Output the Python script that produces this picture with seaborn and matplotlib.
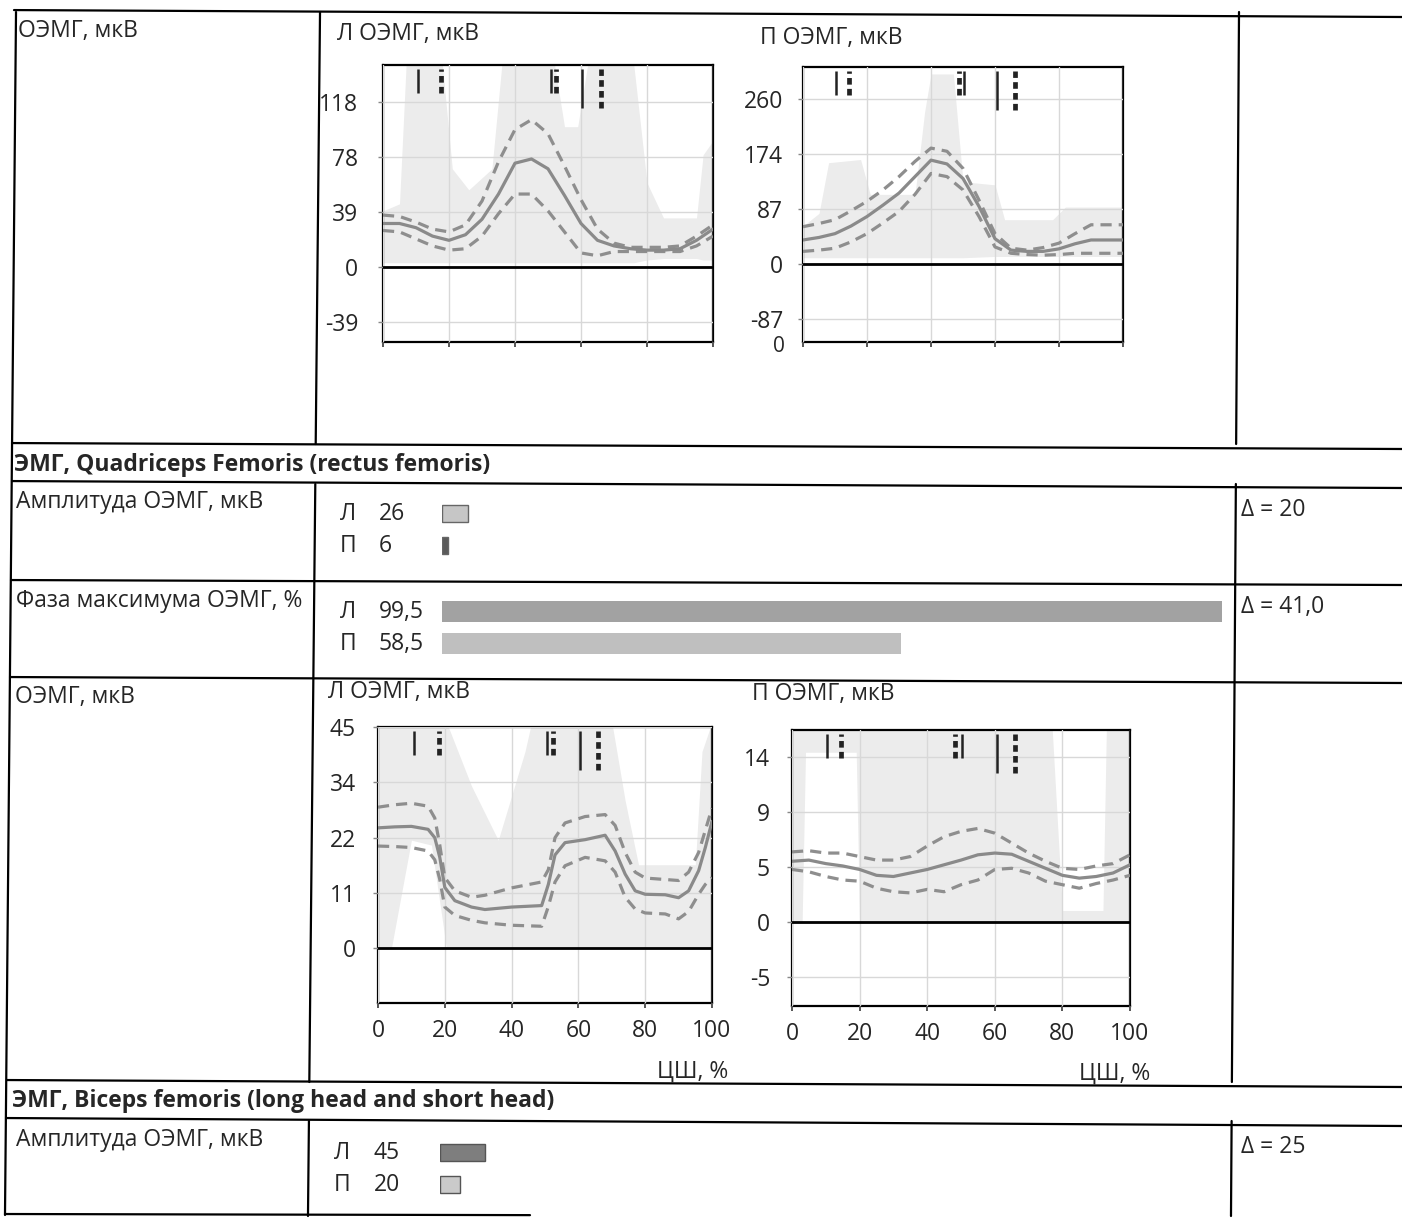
import numpy as np
import pandas as pd
import matplotlib
matplotlib.use("Agg")
import matplotlib.pyplot as plt
import seaborn as sns
from matplotlib.lines import Line2D

# ---------- данные ----------
# ОЭМГ, Quadriceps Femoris, левая нога (Л)
qf_l_x = [0, 5, 10, 15, 20, 25, 30, 35, 40, 45, 50, 55, 60, 65, 70, 75, 80, 85, 90, 95, 100]
qf_l_mean = [31, 31, 28, 22, 19, 23, 34, 52, 74, 77, 70, 51, 31, 19, 15, 13, 12, 12, 13, 19, 27]
qf_l_up = [37, 36, 32, 27, 25, 30, 47, 75, 98, 105, 95, 72, 48, 27, 17, 14, 14, 14, 15, 22, 30]
qf_l_lo = [26, 25, 20, 15, 12, 13, 22, 38, 52, 52, 40, 25, 10, 8, 11, 11, 11, 11, 11, 15, 22]
qf_l_bx = [0, 5, 7, 18, 21, 26, 33, 36, 52, 55, 59, 62, 76, 80, 85, 95, 97, 100]
qf_l_bup = [40, 45, 144, 144, 70, 55, 70, 144, 144, 100, 100, 144, 144, 60, 35, 35, 80, 90]
qf_l_blo = [3, 3, 3, 3, 3, 3, 3, 3, 3, 3, 3, 3, 3, 5, 6, 6, 5, 5]
qf_l_solid = [10.5, 50.8, 60.4]
qf_l_dot = [17.5, 52.3, 66.0]

# ОЭМГ, Quadriceps Femoris, правая нога (П)
qf_r_x = [0, 5, 10, 15, 20, 25, 30, 35, 40, 45, 50, 55, 60, 65, 70, 75, 80, 85, 90, 95, 100]
qf_r_mean = [38, 42, 48, 60, 75, 93, 112, 138, 164, 158, 135, 91, 40, 22, 20, 20, 24, 32, 38, 38, 38]
qf_r_up = [59, 64, 70, 84, 99, 117, 138, 162, 183, 178, 151, 101, 48, 25, 22, 26, 33, 48, 62, 62, 62]
qf_r_lo = [20, 22, 25, 35, 48, 65, 83, 110, 143, 138, 117, 75, 27, 17, 15, 14, 15, 17, 17, 17, 17]
qf_r_bx = [0, 5, 8, 18, 21, 35, 38, 40, 47, 50, 60, 63, 78, 82, 100]
qf_r_bup = [60, 80, 160, 165, 110, 110, 240, 300, 300, 130, 125, 70, 70, 90, 90]
qf_r_blo = [10, 10, 10, 10, 10, 10, 10, 10, 10, 10, 12, 12, 12, 12, 12]
qf_r_solid = [10.2, 50.3, 60.6]
qf_r_dot = [14.4, 48.6, 66.1]

# ОЭМГ, Biceps femoris, Л
bf_l_x = [0, 5, 10, 15, 17, 18.5, 20, 23, 28, 32, 40, 49, 51, 53, 56, 62, 68, 71, 74, 77, 80, 86, 90, 93, 96, 98, 100]
bf_l_mean = [24.5, 24.7, 24.8, 24.2, 22.5, 18.5, 12.4, 9.7, 8.4, 7.9, 8.4, 8.7, 13, 19, 21.5, 22.1, 23, 19.8, 15.1, 11.7, 11, 10.9, 10.3, 11.7, 15.8, 20.5, 25.8]
bf_l_up = [28.7, 29.2, 29.5, 28.9, 26.5, 21, 14.4, 11.7, 10.4, 10.8, 12.3, 13.5, 16, 22.5, 25.5, 26.8, 27.2, 25, 19.5, 15.5, 14.3, 14, 13.8, 15.5, 19.5, 24, 28.5]
bf_l_lo = [20.8, 20.7, 20.5, 19.8, 18, 14, 8.4, 6.7, 5.7, 5.2, 4.7, 4.5, 8.5, 13.5, 16.8, 18.5, 17.8, 15.5, 10.4, 8, 7.2, 7.0, 6.0, 7.5, 11, 13, 14.4]
bf_l_bx = [0, 4, 10, 16, 20.5, 28, 36, 44, 46, 70, 74, 78, 95, 97, 100]
bf_l_bup = [46, 46, 46, 46, 46, 33, 22, 40, 46, 46, 30, 17, 17, 40, 46]
bf_l_blo = [0, 0, 22, 21, 0, 0, 0, 0, 0, 0, 0, 0, 0, 0, 0]
bf_l_solid = [10.8, 50.7, 60.5]
bf_l_dot = [18.2, 52.5, 66.0]

# ОЭМГ, Biceps femoris, П
bf_r_x = [0, 5, 10, 15, 20, 25, 30, 35, 40, 45, 50, 55, 60, 65, 70, 75, 80, 85, 90, 95, 100]
bf_r_mean = [5.2, 5.3, 5.0, 4.8, 4.5, 4.0, 3.9, 4.2, 4.5, 4.9, 5.3, 5.75, 5.9, 5.8, 5.2, 4.6, 4.0, 3.76, 3.9, 4.2, 4.9]
bf_r_up = [6.0, 6.1, 5.9, 5.9, 5.6, 5.3, 5.3, 5.6, 6.5, 7.3, 7.75, 8.0, 7.6, 6.75, 5.9, 5.2, 4.6, 4.5, 4.8, 5.0, 5.75]
bf_r_lo = [4.5, 4.3, 3.9, 3.6, 3.5, 2.9, 2.6, 2.5, 2.8, 2.6, 3.2, 3.6, 4.5, 4.6, 4.2, 3.5, 3.2, 2.9, 3.3, 3.6, 4.0]
bf_r_bx = [0, 3, 4, 19, 20, 77, 80, 92, 93, 100]
bf_r_bup = [16.4, 16.4, 16.4, 16.4, 16.4, 16.4, 1, 1, 16.4, 16.4]
bf_r_blo = [0, 0, 14.5, 14.5, 0, 0, 0, 0, 0, 0]
bf_r_solid = [10.5, 50.2, 60.6]
bf_r_dot = [14.5, 48.3, 66.0]

sides = ["Л", "П"]
qf_amp = [26, 6]
qf_phase = [99.5, 58.5]
bf_amp = [45, 20]
qf_amp_delta = "Δ = 20"
qf_phase_delta = "Δ = 41,0"
bf_amp_delta = "Δ = 25"

# ---------- оформление ----------
W, H = 1402, 1218
sns.set_style("white")
plt.rcParams['font.family'] = ['Open Sans', 'DejaVu Sans']
FS = 16.5
BAND = '#ececec'

fig = plt.figure(figsize=(W / 100, H / 100), dpi=100)


def fx(x):
    return x / W


def fy(y):
    return 1 - y / H


def rect(x0, y0, x1, y1):
    return [fx(x0), fy(y1), (x1 - x0) / W, (y1 - y0) / H]


def hline(yl, yr, x0=0, x1=W):
    # линия таблицы, скан слегка наклонён
    k = (yr - yl) / W
    fig.add_artist(Line2D([fx(x0), fx(x1)], [fy(yl + k * x0), fy(yl + k * x1)],
                          color='black', lw=1.6))


def vline(xt, xb, y0, y1):
    k = (xb - xt) / (1214 - 14)
    xa = xt + k * (y0 - 14)
    xc = xt + k * (y1 - 14)
    fig.add_artist(Line2D([fx(xa), fx(xc)], [fy(y0), fy(y1)], color='black', lw=1.6))


def txt(x, y, s, **kw):
    kw.setdefault('fontsize', FS)
    kw.setdefault('va', 'center')
    fig.text(fx(x), fy(y), s, **kw)


# таблица
hline(10, 17, 14)
hline(443, 449, 12)
hline(481, 488, 12)
hline(580, 585, 11)
hline(677, 683, 10)
hline(1080, 1087, 7)
hline(1118, 1126, 6)
hline(1214, 1217, 5, 530)
vline(16, 5, 12, 1215)
for xt, xb in [(320, 308), (1239, 1231)]:
    vline(xt, xb, 12, 444)
    vline(xt, xb, 484, 1082)
    vline(xt, xb, 1121, 1216)


def draw_chart(pos, x, mean, up, lo, bx, bup, blo, ev_s, ev_d, ylim, step, ylabels, pad, show_x):
    ax = fig.add_axes(rect(*pos))
    ax.fill_between(bx, blo, bup, color=BAND, lw=0, zorder=1)
    sns.lineplot(x=x, y=up, ax=ax, color='#8e8e8e', lw=2.3, linestyle=(0, (3.5, 2.2)), zorder=3)
    sns.lineplot(x=x, y=lo, ax=ax, color='#8e8e8e', lw=2.3, linestyle=(0, (3.5, 2.2)), zorder=3)
    sns.lineplot(x=x, y=mean, ax=ax, color='#8a8a8a', lw=2.3, zorder=3)
    ax.axhline(0, color='black', lw=2, zorder=4)
    ax.vlines(ev_s, [0.90, 0.90, 0.845], 0.985, transform=ax.get_xaxis_transform(),
              color='#222222', lw=1.8, zorder=5)
    ax.vlines(ev_d, [0.90, 0.90, 0.845], 0.985, transform=ax.get_xaxis_transform(),
              color='#222222', lw=3.4, linestyles=[(0, (1.4, 0.9))], zorder=5)
    ax.set_xlim(0, 100)
    ax.set_ylim(*ylim)
    yt = [step * k for k in range(-len(ylabels), len(ylabels) + 1)
          if ylim[0] <= step * k <= ylim[1] + 1e-6]
    ax.set_yticks(yt)
    lab = {round(step * k, 6): l for k, l in ylabels.items()}
    ax.set_yticklabels([lab.get(round(v, 6), '') for v in yt])
    ax.set_xticks([0, 20, 40, 60, 80, 100])
    if show_x:
        ax.set_xticklabels(['0', '20', '40', '60', '80', '100'])
    else:
        ax.set_xticklabels([])
    ax.tick_params(axis='y', length=3.6, width=1, color='#888888', pad=pad, labelsize=FS,
                   left=True)
    ax.tick_params(axis='x', length=3.6, width=1.4, color='#555555', pad=8, labelsize=FS,
                   bottom=True, direction='out')
    ax.grid(True, color='#d8d8d8', lw=1)
    ax.set_axisbelow(False)
    for sp in ax.spines.values():
        sp.set_color('black')
        sp.set_linewidth(1.6)
        sp.set_visible(True)
    ax.set_xlabel('')
    ax.set_ylabel('')
    return ax


# строка 1: ОЭМГ Quadriceps
txt(18, 31, "ОЭМГ, мкВ")
txt(337, 34, "Л ОЭМГ, мкВ")
txt(760, 38, "П ОЭМГ, мкВ")
draw_chart((383, 65, 713, 342), qf_l_x, qf_l_mean, qf_l_up, qf_l_lo, qf_l_bx, qf_l_bup, qf_l_blo,
           qf_l_solid, qf_l_dot, (-53.5, 144), 39.2,
           {-1: '-39', 0: '0', 1: '39', 2: '78', 3: '118'}, 14.4, False)
draw_chart((803, 67, 1123, 342), qf_r_x, qf_r_mean, qf_r_up, qf_r_lo, qf_r_bx, qf_r_bup, qf_r_blo,
           qf_r_solid, qf_r_dot, (-123, 311), 86.8,
           {-1: '-87', 0: '0', 1: '87', 2: '174', 3: '260'}, 10.8, False)
txt(785, 346, "0", ha='right', fontsize=15)

# заголовок раздела
txt(14, 465, "ЭМГ, Quadriceps Femoris (rectus femoris)", fontweight='bold')


def bar_row(y_c, x0, px_per_unit, vals, colors, bar_h, edge, label_x, num_x, ytop_txt, title, delta, delta_y):
    gap = 32
    ax = fig.add_axes(rect(x0, y_c - gap * 1.5, x0 + 800, y_c + gap * 1.5))
    df = pd.DataFrame({'side': sides, 'val': vals})
    sns.barplot(data=df, x='val', y='side', hue='side', palette=colors, orient='h', ax=ax,
                width=bar_h / gap, legend=False, edgecolor=edge, linewidth=1.0 if edge else 0)
    ax.set_xlim(0, 800 / px_per_unit)
    ax.set_ylim(2, -1)
    ax.axis('off')
    for i, (s, v) in enumerate(zip(sides, vals)):
        yy = y_c - gap / 2 + i * gap + 1
        txt(label_x, yy, s)
        txt(num_x, yy, f"{v:g}".replace('.', ','))
    txt(16, ytop_txt, title)
    txt(1241, delta_y, delta)


bar_row(529, 442, 1.0, qf_amp, ['#c6c6c6', '#5a5a5a'], 17, '#666666', 340, 379, 502,
        "Амплитуда ОЭМГ, мкВ", qf_amp_delta, 510)
bar_row(627, 442, 7.84, qf_phase, ['#a2a2a2', '#bfbfbf'], 21, None, 340, 379, 601,
        "Фаза максимума ОЭМГ, %", qf_phase_delta, 607)

# строка: ОЭМГ Biceps
txt(15, 697, "ОЭМГ, мкВ")
txt(328, 692, "Л ОЭМГ, мкВ")
txt(752, 694, "П ОЭМГ, мкВ")
draw_chart((378, 727, 712, 1003), bf_l_x, bf_l_mean, bf_l_up, bf_l_lo, bf_l_bx, bf_l_bup, bf_l_blo,
           bf_l_solid, bf_l_dot, (-11.1, 45), 11.25,
           {0: '0', 1: '11', 2: '22', 3: '34', 4: '45'}, 12.2, True)
draw_chart((792, 730, 1130, 1006), bf_r_x, bf_r_mean, bf_r_up, bf_r_lo, bf_r_bx, bf_r_bup, bf_r_blo,
           bf_r_solid, bf_r_dot, (-7.15, 16.4), 4.7,
           {-1: '-5', 0: '0', 1: '5', 2: '9', 3: '14'}, 12.2, True)
txt(728, 1071, "ЦШ, %", ha='right')
txt(1150, 1073, "ЦШ, %", ha='right')

txt(12, 1101, "ЭМГ, Biceps femoris (long head and short head)", fontweight='bold')
bar_row(1168, 440, 1.0, bf_amp, ['#7e7e7e', '#cacaca'], 17, '#555555', 334, 374, 1140,
        "Амплитуда ОЭМГ, мкВ", bf_amp_delta, 1147)

fig.savefig("out.png", dpi=100)
